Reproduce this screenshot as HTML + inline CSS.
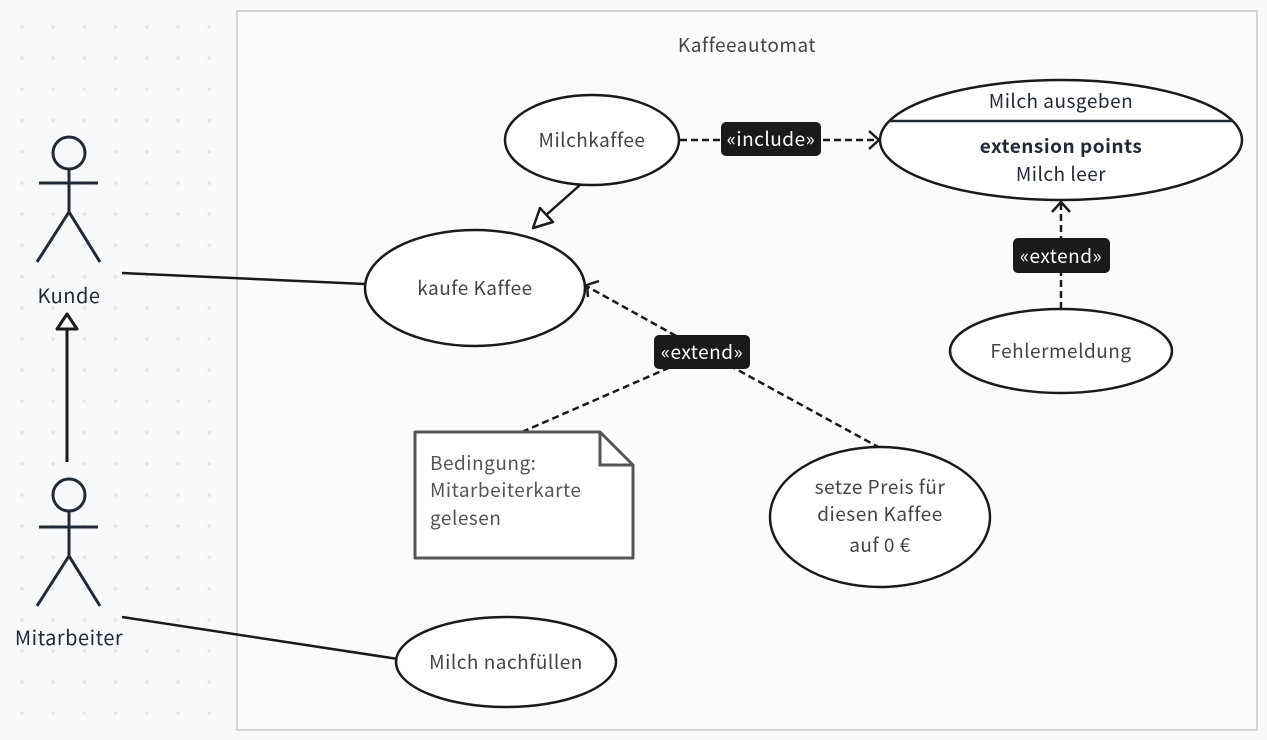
<!DOCTYPE html>
<html><head><meta charset="utf-8"><style>
body{margin:0;background:#f8f9fb;}
svg{display:block;font-family:"Noto Sans CJK JP","DejaVu Sans",sans-serif;}
text{letter-spacing:0.5px;}
</style></head><body>
<svg width="1267" height="740" viewBox="0 0 1267 740" xmlns="http://www.w3.org/2000/svg">
<defs>
<pattern id="dots" x="22" y="27" width="31.2" height="31.2" patternUnits="userSpaceOnUse">
<circle cx="0" cy="0" r="1.8" fill="#e3e5e9"/><circle cx="31.2" cy="0" r="1.8" fill="#e3e5e9"/><circle cx="0" cy="31.2" r="1.8" fill="#e3e5e9"/><circle cx="31.2" cy="31.2" r="1.8" fill="#e3e5e9"/>
</pattern>
</defs>
<rect x="0" y="0" width="1267" height="740" fill="#f8f9fb"/>
<rect x="20" y="25" width="195" height="695" fill="url(#dots)"/>
<rect x="237" y="11" width="1020" height="719" fill="#fcfbfa" stroke="#d4d4d4" stroke-width="2"/>
<text x="747" y="52" font-size="19" fill="#444" text-anchor="middle">Kaffeeautomat</text>

<g stroke="#222a38" stroke-width="3" fill="none">
<circle cx="69" cy="153" r="16"/>
<line x1="69" y1="169" x2="69" y2="212"/><line x1="39" y1="183" x2="98" y2="183"/>
<polyline points="37,262 69,212 100,262"/>
<circle cx="69" cy="495" r="16"/>
<line x1="69" y1="511" x2="69" y2="556"/><line x1="39" y1="527" x2="98" y2="527"/>
<polyline points="37,606 69,556 100,606"/>
</g>
<text x="69" y="303" font-size="20" fill="#222a38" text-anchor="middle">Kunde</text>
<text x="69" y="645" font-size="20" fill="#222a38" text-anchor="middle">Mitarbeiter</text>
<line x1="67" y1="462" x2="67" y2="329" stroke="#1a1a1a" stroke-width="3"/>
<polygon points="67,314 57,329 77,329" fill="#fff" stroke="#1a1a1a" stroke-width="3" stroke-linejoin="round"/>

<g stroke="#1a1a1a" stroke-width="2.5" fill="none">
<line x1="122" y1="273" x2="365" y2="284"/>
<line x1="122" y1="617" x2="398" y2="659"/>
<line x1="580" y1="185" x2="545" y2="216"/>
</g>
<polygon points="533,228 540,208 553,222" fill="#fff" stroke="#1a1a1a" stroke-width="2.5" stroke-linejoin="round"/>

<g stroke="#1a1a1a" stroke-width="2.5" fill="none" stroke-dasharray="7,4">
<line x1="680" y1="140" x2="878" y2="140"/>
<line x1="1061" y1="309" x2="1061" y2="203"/>
<line x1="705" y1="352" x2="588" y2="287"/>
<line x1="522" y1="432" x2="705" y2="352"/>
<line x1="880" y1="448" x2="705" y2="352"/>
</g>
<g stroke="#1a1a1a" stroke-width="2.5" fill="none">
<polyline points="869,131 879,140 869,149"/>
<polyline points="1052,212 1061,202 1070,212"/>
<polyline points="588,297 587,285 599,281"/>
</g>

<g stroke="#1a1a1a" stroke-width="2.5" fill="#fff">
<ellipse cx="592" cy="140" rx="87" ry="45"/>
<ellipse cx="1061" cy="140" rx="181" ry="60"/>
<ellipse cx="475" cy="288" rx="110" ry="58"/>
<ellipse cx="1061" cy="351" rx="111" ry="42"/>
<ellipse cx="880" cy="517" rx="110" ry="70"/>
<ellipse cx="506" cy="662" rx="110" ry="45"/>
</g>
<line x1="889" y1="121" x2="1233" y2="121" stroke="#222a38" stroke-width="2.5"/>
<g font-size="19" fill="#444" text-anchor="middle">
<text x="592" y="147">Milchkaffee</text>
<text x="475" y="295">kaufe Kaffee</text>
<text x="1061" y="358">Fehlermeldung</text>
<text x="880" y="494">setze Preis für</text>
<text x="880" y="521">diesen Kaffee</text>
<text x="880" y="552">auf 0 €</text>
<text x="506" y="669">Milch nachfüllen</text>
</g>
<text x="1061" y="108" font-size="19" fill="#222a38" text-anchor="middle">Milch ausgeben</text>
<text x="1061" y="153" font-size="19" fill="#222a38" text-anchor="middle" font-weight="bold">extension points</text>
<text x="1061" y="181" font-size="19" fill="#222a38" text-anchor="middle">Milch leer</text>

<polygon points="415,432 600,432 633,465 633,558 415,558" fill="#fff" stroke="#555" stroke-width="3" stroke-linejoin="round"/>
<polyline points="600,432 600,465 633,465" fill="none" stroke="#555" stroke-width="3"/>
<g font-size="19" fill="#555">
<text x="430" y="470">Bedingung:</text>
<text x="430" y="497">Mitarbeiterkarte</text>
<text x="430" y="525">gelesen</text>
</g>

<g fill="#1a1a1a">
<rect x="721" y="122" width="100" height="34" rx="5"/>
<rect x="654" y="335" width="96" height="34" rx="5"/>
<rect x="1013" y="238" width="97" height="35" rx="5"/>
</g>
<g font-size="19" fill="#fff" text-anchor="middle">
<text x="771" y="146">«include»</text>
<text x="702" y="359">«extend»</text>
<text x="1061" y="263">«extend»</text>
</g>
</svg>
</body></html>
